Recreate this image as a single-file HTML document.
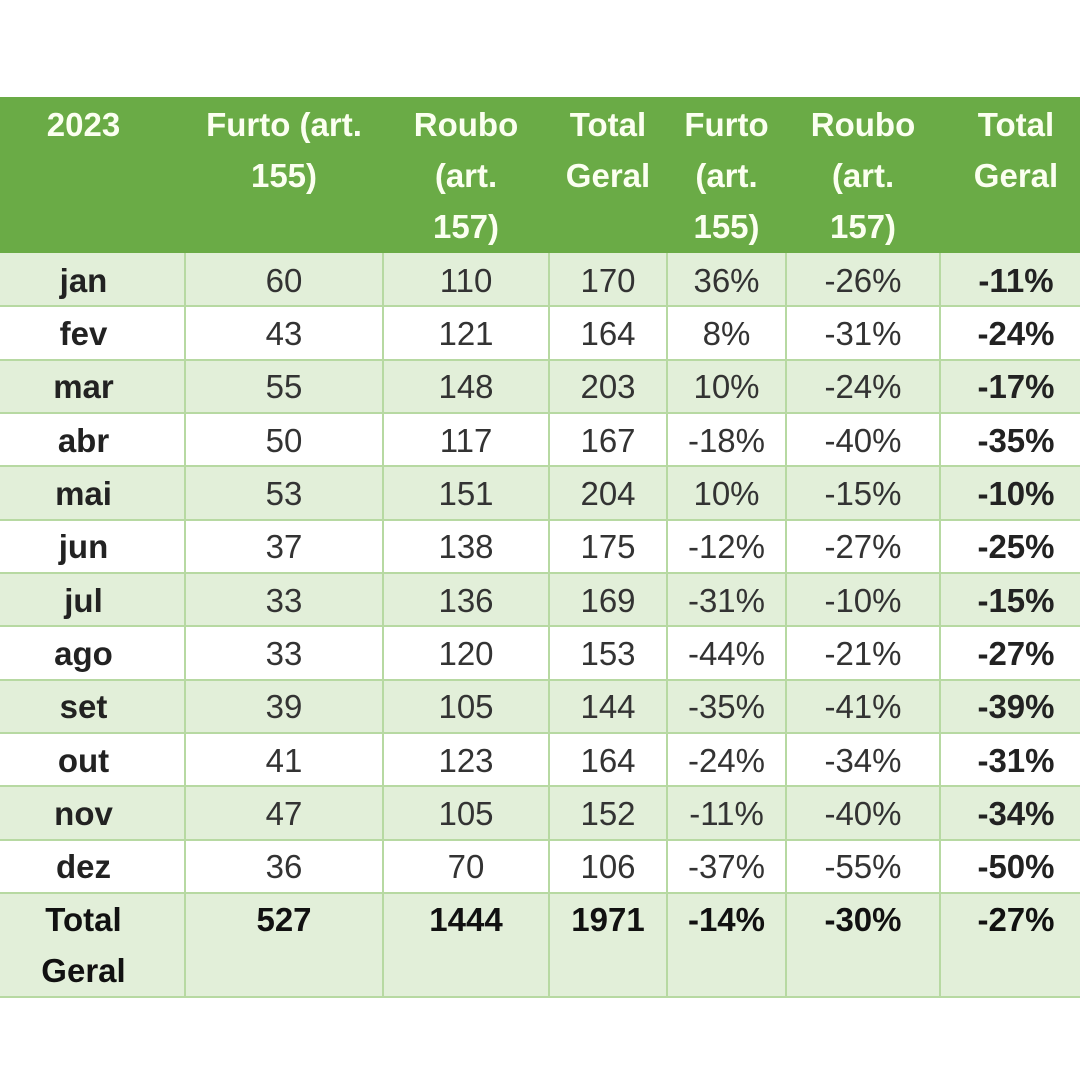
<!DOCTYPE html>
<html><head><meta charset="utf-8"><style>
html,body{margin:0;padding:0;background:#fff;}
body{width:1080px;height:1080px;position:relative;overflow:hidden;font-family:"Liberation Sans",Arial,sans-serif;}
.hdr{position:absolute;left:0;top:97px;width:1080px;height:156px;background:#6aab46;}
.row{position:absolute;left:0;width:1080px;}
.g{background:#e2efd9;}
.w{background:#fff;}
.hl{position:absolute;left:0;width:1080px;height:2px;background:#b7d9a2;}
.vl{position:absolute;top:253px;width:2px;height:745px;background:#b7d9a2;}
.c{position:absolute;display:flex;align-items:center;justify-content:center;font-size:33px;color:#333;text-align:center;}
.h{position:absolute;top:99px;font-size:33px;line-height:51px;font-weight:bold;color:#fbfff0;text-align:center;}
.b{font-weight:bold;color:#222;}
.t{position:absolute;top:893px;height:104px;font-size:33px;line-height:51px;font-weight:bold;color:#111;text-align:center;padding-top:1px;}
</style></head><body>
<div class="hdr"></div>
<div class="h" style="left:-18px;width:203px;">2023</div>
<div class="h" style="left:185px;width:198px;">Furto (art.<br>155)</div>
<div class="h" style="left:383px;width:166px;">Roubo<br>(art.<br>157)</div>
<div class="h" style="left:549px;width:118px;">Total<br>Geral</div>
<div class="h" style="left:667px;width:119px;">Furto<br>(art.<br>155)</div>
<div class="h" style="left:786px;width:154px;">Roubo<br>(art.<br>157)</div>
<div class="h" style="left:940px;width:152px;">Total<br>Geral</div>

<div id="rows"></div>
<script>
(function(){
var data=[
["jan","60","110","170","36%","-26%","-11%"],
["fev","43","121","164","8%","-31%","-24%"],
["mar","55","148","203","10%","-24%","-17%"],
["abr","50","117","167","-18%","-40%","-35%"],
["mai","53","151","204","10%","-15%","-10%"],
["jun","37","138","175","-12%","-27%","-25%"],
["jul","33","136","169","-31%","-10%","-15%"],
["ago","33","120","153","-44%","-21%","-27%"],
["set","39","105","144","-35%","-41%","-39%"],
["out","41","123","164","-24%","-34%","-31%"],
["nov","47","105","152","-11%","-40%","-34%"],
["dez","36","70","106","-37%","-55%","-50%"]];
var cols=[[-18,203],[185,198],[383,166],[549,118],[667,119],[786,154],[940,152]];
var h="";
var rh=640/12;
for(var i=0;i<12;i++){
 var ty=253+i*rh;
 h+='<div class="row '+(i%2==0?'g':'w')+'" style="top:'+ty+'px;height:'+rh+'px"></div>';
 for(var j=0;j<7;j++){
  var cls="c"+((j==0||j==6)?" b":"");
  h+='<div class="'+cls+'" style="left:'+cols[j][0]+'px;width:'+cols[j][1]+'px;top:'+(ty+1)+'px;height:'+rh+'px">'+data[i][j]+'</div>';
 }
}
h+='<div class="row g" style="top:893px;height:104px"></div>';
var tot=["Total<br>Geral","527","1444","1971","-14%","-30%","-27%"];
for(var j=0;j<7;j++){
 h+='<div class="t" style="left:'+cols[j][0]+'px;width:'+cols[j][1]+'px">'+tot[j]+'</div>';
}
for(var i=1;i<=12;i++){
 var yy=253+i*rh;
 h+='<div class="hl" style="top:'+(yy-1)+'px"></div>';
}
h+='<div class="hl" style="top:996px"></div>';
var vx=[184,382,548,666,785,939];
for(var k=0;k<vx.length;k++){h+='<div class="vl" style="left:'+vx[k]+'px"></div>';}
document.getElementById("rows").outerHTML=h;
})();
</script>
</body></html>
